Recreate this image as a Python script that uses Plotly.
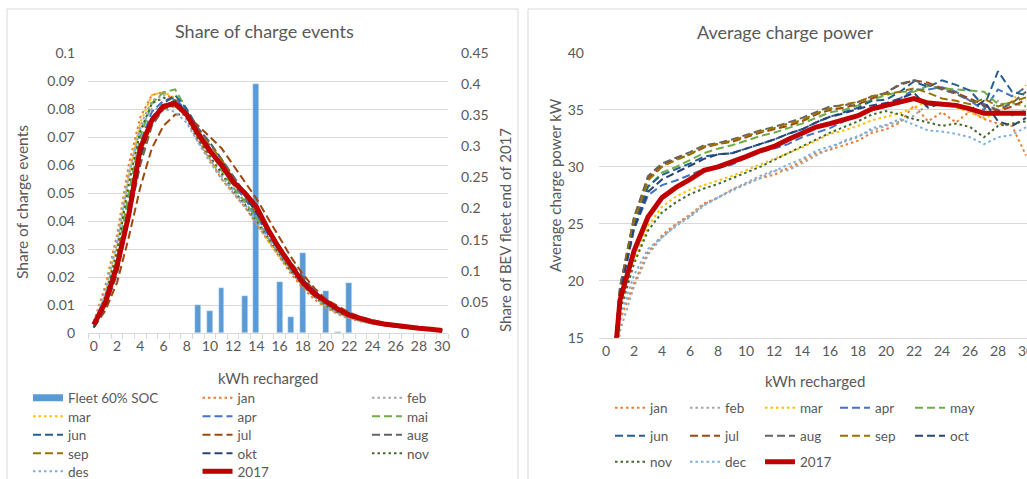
import plotly.graph_objects as go

W, H = 1027, 479
FONT = "Lato"
TXT = "#595959"
GRID = "#D9D9D9"

kwh = list(range(0, 31))
x_ticks = list(range(0, 31, 2))

# ---------------- Left panel: share of charge events ----------------
fleet_kwh = [9, 10, 11, 13, 14, 16, 17, 18, 20, 21, 22]
fleet_share = [0.045, 0.035, 0.073, 0.060, 0.400, 0.082, 0.025, 0.128, 0.067, 0.002, 0.080]

share = {
    "jan": [0.004, 0.017, 0.035, 0.060, 0.077, 0.085, 0.086, 0.083, 0.077, 0.069, 0.062, 0.055, 0.050, 0.045, 0.039, 0.033, 0.027, 0.021, 0.016, 0.012, 0.0090, 0.0068, 0.0052, 0.0041, 0.0033, 0.0027, 0.0022, 0.0018, 0.0014, 0.0011, 0.0008],
    "feb": [0.004, 0.015, 0.032, 0.056, 0.074, 0.083, 0.085, 0.082, 0.076, 0.068, 0.061, 0.055, 0.050, 0.045, 0.039, 0.033, 0.027, 0.022, 0.017, 0.013, 0.0095, 0.0072, 0.0055, 0.0043, 0.0034, 0.0027, 0.0022, 0.0018, 0.0014, 0.0011, 0.0008],
    "mar": [0.003, 0.014, 0.031, 0.056, 0.075, 0.085, 0.086, 0.084, 0.077, 0.069, 0.062, 0.056, 0.051, 0.046, 0.040, 0.033, 0.027, 0.022, 0.017, 0.013, 0.0095, 0.0072, 0.0055, 0.0043, 0.0034, 0.0027, 0.0022, 0.0018, 0.0014, 0.0011, 0.0008],
    "apr": [0.003, 0.012, 0.026, 0.048, 0.068, 0.079, 0.083, 0.084, 0.079, 0.071, 0.065, 0.059, 0.053, 0.048, 0.042, 0.035, 0.029, 0.023, 0.018, 0.014, 0.0100, 0.0078, 0.0060, 0.0046, 0.0036, 0.0029, 0.0023, 0.0018, 0.0014, 0.0011, 0.0008],
    "mai": [0.003, 0.012, 0.027, 0.050, 0.070, 0.082, 0.086, 0.087, 0.080, 0.071, 0.065, 0.058, 0.052, 0.047, 0.041, 0.034, 0.028, 0.022, 0.017, 0.013, 0.0098, 0.0075, 0.0058, 0.0045, 0.0035, 0.0028, 0.0022, 0.0018, 0.0014, 0.0011, 0.0008],
    "jun": [0.002, 0.010, 0.023, 0.044, 0.064, 0.077, 0.082, 0.085, 0.080, 0.073, 0.068, 0.062, 0.056, 0.050, 0.044, 0.037, 0.030, 0.024, 0.019, 0.015, 0.0110, 0.0088, 0.0068, 0.0053, 0.0041, 0.0032, 0.0026, 0.0021, 0.0016, 0.0012, 0.0009],
    "jul": [0.002, 0.008, 0.018, 0.034, 0.052, 0.066, 0.074, 0.078, 0.078, 0.074, 0.070, 0.066, 0.060, 0.054, 0.048, 0.041, 0.034, 0.027, 0.021, 0.016, 0.0120, 0.0095, 0.0073, 0.0057, 0.0045, 0.0035, 0.0028, 0.0022, 0.0017, 0.0013, 0.0010],
    "aug": [0.002, 0.009, 0.021, 0.040, 0.060, 0.074, 0.080, 0.082, 0.079, 0.073, 0.068, 0.062, 0.056, 0.050, 0.044, 0.037, 0.031, 0.025, 0.020, 0.015, 0.0115, 0.0090, 0.0070, 0.0054, 0.0042, 0.0033, 0.0026, 0.0021, 0.0016, 0.0012, 0.0009],
    "sep": [0.002, 0.010, 0.022, 0.042, 0.062, 0.075, 0.080, 0.081, 0.078, 0.072, 0.067, 0.062, 0.055, 0.049, 0.043, 0.036, 0.030, 0.024, 0.019, 0.015, 0.0110, 0.0088, 0.0068, 0.0053, 0.0041, 0.0032, 0.0026, 0.0021, 0.0016, 0.0012, 0.0009],
    "okt": [0.002, 0.010, 0.022, 0.043, 0.063, 0.076, 0.081, 0.083, 0.079, 0.072, 0.066, 0.060, 0.055, 0.049, 0.043, 0.036, 0.030, 0.024, 0.019, 0.015, 0.0110, 0.0086, 0.0066, 0.0051, 0.0040, 0.0031, 0.0025, 0.0020, 0.0016, 0.0012, 0.0009],
    "nov": [0.003, 0.013, 0.029, 0.053, 0.072, 0.082, 0.084, 0.083, 0.077, 0.069, 0.063, 0.057, 0.051, 0.046, 0.040, 0.034, 0.028, 0.022, 0.017, 0.013, 0.0097, 0.0074, 0.0057, 0.0044, 0.0035, 0.0028, 0.0022, 0.0018, 0.0014, 0.0011, 0.0008],
    "des": [0.004, 0.015, 0.033, 0.057, 0.073, 0.080, 0.080, 0.079, 0.075, 0.068, 0.062, 0.056, 0.051, 0.046, 0.040, 0.034, 0.028, 0.022, 0.017, 0.013, 0.0095, 0.0072, 0.0055, 0.0043, 0.0034, 0.0027, 0.0022, 0.0018, 0.0014, 0.0011, 0.0008],
    "2017": [0.003, 0.011, 0.024, 0.042, 0.066, 0.076, 0.081, 0.082, 0.078, 0.071, 0.065, 0.060, 0.054, 0.050, 0.045, 0.037, 0.030, 0.024, 0.018, 0.014, 0.0110, 0.0085, 0.0064, 0.0050, 0.0040, 0.0032, 0.0026, 0.0021, 0.0017, 0.0013, 0.0009],
}

# ---------------- Right panel: average charge power ----------------
power = {
    "jan": [5, 16.5, 19.8, 22.5, 24.0, 25.0, 25.8, 26.8, 27.3, 28.0, 28.5, 29.0, 29.3, 29.9, 30.5, 31.2, 31.5, 31.9, 32.3, 33.0, 33.3, 33.9, 35.4, 34.0, 34.8, 33.9, 34.9, 34.2, 33.8, 33.6, 31.0],
    "feb": [5, 15.6, 19.5, 22.3, 23.8, 24.9, 25.7, 26.7, 27.3, 28.0, 28.6, 29.2, 29.7, 29.7, 30.3, 31.0, 31.6, 32.3, 32.7, 33.2, 33.6, 34.0, 34.5, 35.5, 35.4, 35.3, 34.8, 34.3, 35.8, 34.5, 35.0],
    "mar": [5, 17.5, 21.8, 24.8, 26.5, 27.4, 28.0, 28.4, 28.8, 29.2, 29.7, 30.2, 30.7, 31.2, 31.7, 32.3, 32.9, 33.2, 33.6, 34.1, 34.4, 34.7, 35.2, 35.8, 35.5, 35.2, 34.8, 34.3, 34.7, 35.8, 37.2],
    "apr": [5, 18.8, 24.5, 27.5, 28.4, 28.8, 29.3, 29.8, 29.9, 30.2, 30.8, 31.3, 31.6, 32.0, 32.6, 33.0, 33.4, 34.0, 34.5, 35.0, 35.3, 36.0, 36.8, 36.8, 37.0, 36.6, 35.8, 35.0, 36.8, 36.2, 37.0],
    "may": [5, 19.0, 24.8, 28.2, 29.5, 30.0, 30.6, 31.2, 31.6, 31.9, 32.3, 32.7, 33.0, 33.4, 33.8, 34.3, 34.8, 35.0, 35.4, 35.9, 36.3, 36.6, 36.6, 37.1, 36.9, 36.8, 36.7, 36.6, 35.5, 35.6, 35.3],
    "jun": [5, 19.0, 25.0, 28.3, 29.3, 29.8, 30.3, 30.9, 31.1, 31.2, 31.6, 32.0, 32.4, 32.9, 33.3, 33.9, 34.4, 34.8, 35.2, 35.8, 35.9, 36.6, 37.5, 37.0, 37.6, 37.2, 36.7, 35.3, 38.4, 36.6, 36.3],
    "jul": [5, 19.4, 25.6, 29.0, 30.1, 30.7, 31.1, 31.7, 32.0, 32.2, 32.6, 33.0, 33.3, 33.6, 34.0, 34.6, 35.0, 35.2, 35.5, 36.0, 36.5, 37.2, 37.6, 37.4, 36.9, 36.5, 36.0, 35.4, 34.9, 35.3, 35.9],
    "aug": [5, 19.5, 25.5, 29.2, 30.3, 30.8, 31.3, 31.9, 32.1, 32.4, 32.8, 33.2, 33.5, 33.9, 34.3, 34.8, 35.3, 35.4, 35.7, 36.2, 36.5, 37.3, 37.6, 37.2, 36.8, 36.4, 35.8, 35.5, 35.0, 35.6, 36.6],
    "sep": [5, 19.2, 25.2, 28.8, 30.0, 30.6, 31.1, 31.8, 32.0, 32.3, 32.7, 33.1, 33.4, 33.8, 34.1, 34.7, 35.1, 35.5, 35.7, 36.2, 36.4, 36.6, 36.9, 36.5, 36.0, 35.8, 35.5, 36.0, 35.3, 35.7, 36.1],
    "oct": [5, 18.9, 24.6, 27.8, 28.9, 29.5, 30.1, 30.7, 31.1, 31.2, 31.6, 32.0, 32.4, 32.9, 33.3, 33.9, 34.4, 34.7, 35.1, 35.4, 35.6, 36.0, 36.5, 35.2, 35.6, 35.5, 35.0, 35.8, 34.0, 33.6, 34.3],
    "nov": [5, 17.3, 21.5, 24.4, 26.0, 26.9, 27.6, 28.1, 28.5, 29.0, 29.5, 30.0, 30.6, 31.2, 31.8, 32.4, 33.0, 33.5, 34.0, 34.6, 34.9, 34.6, 34.2, 33.9, 33.6, 33.8, 33.5, 32.6, 33.6, 33.8, 34.0],
    "dec": [5, 16.8, 20.5, 22.8, 23.8, 24.8, 25.6, 26.6, 27.3, 27.9, 28.5, 29.0, 29.6, 30.2, 30.7, 31.4, 31.8, 32.2, 32.6, 33.4, 33.7, 34.2, 33.7, 33.2, 33.1, 32.9, 32.6, 32.0, 32.6, 32.8, 33.5],
    "2017": [4.5, 18.3, 22.6, 25.6, 27.3, 28.2, 28.9, 29.7, 30.0, 30.4, 30.9, 31.4, 31.8, 32.4, 32.9, 33.5, 33.8, 34.2, 34.5, 35.1, 35.4, 35.8, 36.0, 35.6, 35.5, 35.4, 35.1, 34.7, 34.7, 34.7, 34.7],
}

DOT = "2.5px,3px"
DASH = "8px,4px"
month_style = [
    ("#ED7D31", DOT), ("#A5A5A5", DOT), ("#FFC000", DOT), ("#4472C4", DASH),
    ("#70AD47", DASH), ("#255E91", DASH), ("#9E480E", DASH), ("#636363", DASH),
    ("#997300", DASH), ("#264478", DASH), ("#43682B", DOT), ("#7CAFDD", DOT),
]
RED = "#C00000"
BAR = "#5B9BD5"


def px(x):
    return x / W


def py(y):
    return 1 - y / H


fig = go.Figure()

left_names = list(share.keys())
left_entries = ["Fleet 60% SOC"] + left_names
left_leg = {}
for i, n in enumerate(left_entries):
    left_leg[n] = "legend" if i < 3 else f"legend{i // 3 + 1}"

right_names = list(power.keys())
right_leg = {}
for i, n in enumerate(right_names):
    right_leg[n] = f"legend{6 + i // 5}"

# bars on base (right-side) axis so lines draw on top
fig.add_trace(go.Bar(x=fleet_kwh, y=fleet_share, marker_color=BAR, width=0.5,
                     xaxis="x", yaxis="y", showlegend=False, name="Fleet 60% SOC"))
fig.add_trace(go.Scatter(x=[None], y=[None], mode="lines", name="Fleet 60% SOC",
                         line=dict(color=BAR, width=7), xaxis="x", yaxis="y",
                         legend=left_leg["Fleet 60% SOC"]))

for i, n in enumerate(left_names):
    if n == "2017":
        line = dict(color=RED, width=5)
    else:
        c, d = month_style[i]
        line = dict(color=c, width=2, dash=d)
    fig.add_trace(go.Scatter(x=kwh, y=share[n], mode="lines", name=n, line=line,
                             xaxis="x", yaxis="y2", legend=left_leg[n]))

for i, n in enumerate(right_names):
    if n == "2017":
        line = dict(color=RED, width=5)
    else:
        c, d = month_style[i]
        line = dict(color=c, width=2, dash=d)
    fig.add_trace(go.Scatter(x=kwh, y=power[n], mode="lines", name=n, line=line,
                             xaxis="x2", yaxis="y3", legend=right_leg[n]))

tickfont = dict(family=FONT, size=14, color=TXT)
legfont = dict(family=FONT, size=13.5, color=TXT)

left_y_vals = [i / 100 for i in range(0, 11)]
left_y_text = ["0"] + [f"0.{i:02d}" for i in range(1, 10)] + ["0.1"]
right_y_vals = [i * 0.05 for i in range(0, 10)]
right_y_text = ["0", "0.05", "0.1", "0.15", "0.2", "0.25", "0.3", "0.35", "0.4", "0.45"]
pow_ticks = [15, 20, 25, 30, 35, 40]

layout = dict(
    width=W, height=H, margin=dict(l=0, r=0, t=0, b=0, autoexpand=False),
    paper_bgcolor="white", plot_bgcolor="white", bargap=0,
    xaxis=dict(domain=[px(88), px(448)], range=[-0.5, 30.5], tickvals=x_ticks,
               showgrid=False, zeroline=False, showline=True, linecolor=GRID,
               ticks="", tickfont=tickfont, anchor="y",
               minor=dict(ticks="outside", tickvals=[k - 0.5 for k in range(0, 32)],
                          ticklen=5, tickcolor=GRID, showgrid=False)),
    yaxis=dict(domain=[py(333), py(53)], range=[0, 0.45], side="right",
               tickvals=right_y_vals, ticktext=right_y_text, showgrid=False,
               zeroline=False, tickfont=tickfont, anchor="x", ticklabelstandoff=12),
    yaxis2=dict(range=[0, 0.1], overlaying="y", side="left", anchor="x",
                tickvals=left_y_vals, ticktext=left_y_text, showgrid=True,
                gridcolor=GRID, zeroline=False, tickfont=tickfont, ticklabelstandoff=12),
    xaxis2=dict(domain=[px(599), 1.0], range=[-0.5, 30.07], tickvals=x_ticks,
                showgrid=False, zeroline=False, showline=True, linecolor=GRID,
                ticks="", tickfont=tickfont, anchor="y3", ticklabeloverflow="allow"),
    yaxis3=dict(domain=[py(337.7), py(53)], range=[15, 40], tickvals=pow_ticks,
                showgrid=True, gridcolor=GRID, zeroline=False, tickfont=tickfont,
                anchor="x2", ticklabelstandoff=14),
)

left_rows_y = [398, 416.5, 435, 453.5, 471.5]
for r, yc in enumerate(left_rows_y):
    key = "legend" if r == 0 else f"legend{r + 1}"
    layout[key] = dict(x=px(28), y=py(yc), xanchor="left", yanchor="middle",
                       orientation="h", entrywidth=124.5, entrywidthmode="pixels",
                       font=legfont, bgcolor="rgba(0,0,0,0)", itemwidth=30)
right_rows_y = [408, 436, 462]
for r, yc in enumerate(right_rows_y):
    key = f"legend{6 + r}"
    layout[key] = dict(x=px(610), y=py(yc), xanchor="left", yanchor="middle",
                       orientation="h", entrywidth=30, entrywidthmode="pixels",
                       font=legfont, bgcolor="rgba(0,0,0,0)", itemwidth=30)

fig.update_layout(**layout)

for x0, x1 in [(7, 518), (528, 1045)]:
    fig.add_shape(type="rect", xref="paper", yref="paper", x0=px(x0), x1=px(x1),
                  y0=py(490), y1=py(9), line=dict(color=GRID, width=1), layer="below")

ann = [
    ("Share of charge events", 264, 31, 0, 18),
    ("Average charge power", 785, 32, 0, 18),
    ("kWh recharged", 268, 378, 0, 15),
    ("kWh recharged", 815, 381, 0, 15),
    ("Share of charge events", 22, 202, -90, 15.5),
    ("Share of BEV fleet end of 2017", 505, 230, -90, 15),
    ("Average charge power kW", 555, 185, -90, 15),
]
for t, x, y, rot, s in ann:
    fig.add_annotation(text=t, x=px(x), y=py(y), xref="paper", yref="paper",
                       showarrow=False, textangle=rot, xanchor="center", yanchor="middle",
                       font=dict(family=FONT, size=s, color=TXT))

fig.write_html("out.html", config={"displayModeBar": False},
               post_script="document.body.style.margin='0px';"
                           "document.body.style.overflow='hidden';")
